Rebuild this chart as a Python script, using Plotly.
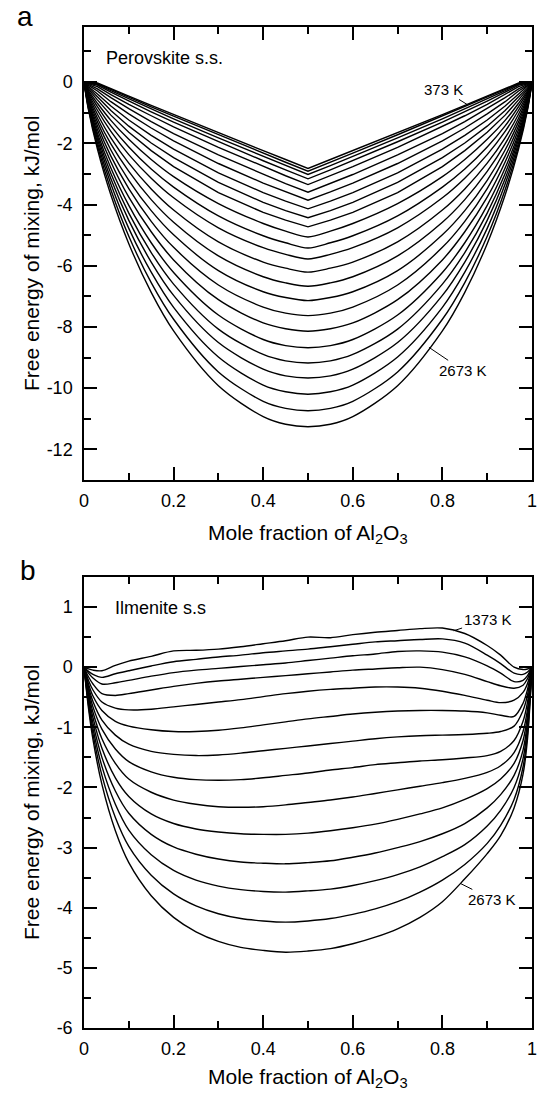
import numpy as np
import plotly.graph_objects as go

# ---------------- Panel a: perovskite solid solution ----------------
x_perov = [0, 0.01, 0.03, 0.06, 0.1, 0.15, 0.2, 0.3, 0.4, 0.45, 0.5,
           0.55, 0.6, 0.7, 0.8, 0.85, 0.9, 0.94, 0.97, 0.99, 1]
temps_perov = [373, 473, 573, 673, 773, 873, 973, 1073, 1173, 1273, 1373, 1473,
               1573, 1673, 1773, 1873, 1973, 2073, 2173, 2273, 2373, 2473, 2573, 2673]
g_perov = [
    [0, 0.00, -0.03, -0.22, -0.46, -0.76, -1.06, -1.65, -2.24, -2.53, -2.82, -2.53, -2.24, -1.65, -1.06, -0.76, -0.46, -0.22, -0.03, 0.00, 0],
    [0, -0.01, -0.05, -0.24, -0.50, -0.81, -1.11, -1.72, -2.32, -2.62, -2.91, -2.62, -2.32, -1.72, -1.11, -0.81, -0.50, -0.24, -0.05, -0.01, 0],
    [0, -0.02, -0.07, -0.28, -0.55, -0.88, -1.20, -1.82, -2.43, -2.73, -3.02, -2.73, -2.43, -1.82, -1.20, -0.88, -0.55, -0.28, -0.07, -0.02, 0],
    [0, -0.03, -0.10, -0.33, -0.62, -0.97, -1.31, -1.95, -2.57, -2.87, -3.16, -2.87, -2.57, -1.95, -1.31, -0.97, -0.62, -0.33, -0.10, -0.03, 0],
    [0, -0.05, -0.15, -0.41, -0.73, -1.10, -1.46, -2.13, -2.76, -3.06, -3.35, -3.06, -2.76, -2.13, -1.46, -1.10, -0.73, -0.41, -0.15, -0.05, 0],
    [0, -0.08, -0.22, -0.51, -0.87, -1.29, -1.68, -2.38, -3.02, -3.32, -3.60, -3.32, -3.02, -2.38, -1.68, -1.29, -0.87, -0.51, -0.22, -0.08, 0],
    [0, -0.11, -0.29, -0.64, -1.04, -1.50, -1.92, -2.66, -3.30, -3.59, -3.86, -3.59, -3.30, -2.66, -1.92, -1.50, -1.04, -0.64, -0.29, -0.11, 0],
    [0, -0.15, -0.39, -0.78, -1.24, -1.74, -2.19, -2.97, -3.61, -3.89, -4.14, -3.89, -3.61, -2.97, -2.19, -1.74, -1.24, -0.78, -0.39, -0.15, 0],
    [0, -0.19, -0.48, -0.93, -1.44, -1.99, -2.47, -3.28, -3.93, -4.20, -4.43, -4.20, -3.93, -3.28, -2.47, -1.99, -1.44, -0.93, -0.48, -0.19, 0],
    [0, -0.23, -0.58, -1.08, -1.64, -2.24, -2.76, -3.61, -4.26, -4.51, -4.73, -4.51, -4.26, -3.61, -2.76, -2.24, -1.64, -1.08, -0.58, -0.23, 0],
    [0, -0.28, -0.69, -1.25, -1.87, -2.53, -3.09, -3.97, -4.62, -4.87, -5.06, -4.87, -4.62, -3.97, -3.09, -2.53, -1.87, -1.25, -0.69, -0.28, 0],
    [0, -0.33, -0.80, -1.43, -2.12, -2.84, -3.43, -4.37, -5.02, -5.25, -5.42, -5.25, -5.02, -4.37, -3.43, -2.84, -2.12, -1.43, -0.80, -0.33, 0],
    [0, -0.38, -0.92, -1.61, -2.37, -3.14, -3.78, -4.76, -5.41, -5.63, -5.78, -5.63, -5.41, -4.76, -3.78, -3.14, -2.37, -1.61, -0.92, -0.38, 0],
    [0, -0.43, -1.05, -1.82, -2.65, -3.49, -4.18, -5.22, -5.88, -6.08, -6.21, -6.08, -5.88, -5.22, -4.18, -3.49, -2.65, -1.82, -1.05, -0.43, 0],
    [0, -0.49, -1.18, -2.02, -2.92, -3.84, -4.58, -5.68, -6.36, -6.56, -6.67, -6.56, -6.36, -5.68, -4.58, -3.84, -2.92, -2.02, -1.18, -0.49, 0],
    [0, -0.54, -1.30, -2.22, -3.21, -4.20, -4.99, -6.16, -6.85, -7.04, -7.14, -7.04, -6.85, -6.16, -4.99, -4.20, -3.21, -2.22, -1.30, -0.54, 0],
    [0, -0.59, -1.43, -2.42, -3.48, -4.55, -5.40, -6.63, -7.35, -7.55, -7.63, -7.55, -7.35, -6.63, -5.40, -4.55, -3.48, -2.42, -1.43, -0.59, 0],
    [0, -0.64, -1.55, -2.61, -3.76, -4.89, -5.81, -7.11, -7.87, -8.06, -8.14, -8.06, -7.87, -7.11, -5.81, -4.89, -3.76, -2.61, -1.55, -0.64, 0],
    [0, -0.69, -1.67, -2.81, -4.03, -5.25, -6.22, -7.61, -8.41, -8.61, -8.68, -8.61, -8.41, -7.61, -6.22, -5.25, -4.03, -2.81, -1.67, -0.69, 0],
    [0, -0.74, -1.77, -2.99, -4.28, -5.57, -6.60, -8.07, -8.90, -9.11, -9.18, -9.11, -8.90, -8.07, -6.60, -5.57, -4.28, -2.99, -1.77, -0.74, 0],
    [0, -0.78, -1.87, -3.16, -4.52, -5.88, -6.97, -8.51, -9.38, -9.60, -9.67, -9.60, -9.38, -8.51, -6.97, -5.88, -4.52, -3.16, -1.87, -0.78, 0],
    [0, -0.82, -1.98, -3.33, -4.78, -6.21, -7.36, -8.98, -9.90, -10.12, -10.20, -10.12, -9.90, -8.98, -7.36, -6.21, -4.78, -3.33, -1.98, -0.82, 0],
    [0, -0.87, -2.09, -3.52, -5.04, -6.55, -7.75, -9.47, -10.43, -10.66, -10.74, -10.66, -10.43, -9.47, -7.75, -6.55, -5.04, -3.52, -2.09, -0.87, 0],
    [0, -0.91, -2.19, -3.69, -5.28, -6.87, -8.13, -9.92, -10.93, -11.18, -11.26, -11.18, -10.93, -9.92, -8.13, -6.87, -5.28, -3.69, -2.19, -0.91, 0],
]
# low-temperature curves keep a sharp kink at x = 0.5
kinked_below = 1300

# ---------------- Panel b: ilmenite solid solution ----------------
x_ilm = [0, 0.01, 0.02, 0.04, 0.07, 0.1, 0.15, 0.2, 0.25, 0.3, 0.35, 0.4, 0.45, 0.5,
         0.55, 0.6, 0.65, 0.7, 0.75, 0.8, 0.85, 0.9, 0.93, 0.96, 0.98, 0.99, 1]
temps_ilm = [1373, 1473, 1573, 1673, 1773, 1873, 1973, 2073, 2173, 2273, 2373, 2473, 2573, 2673]
g_ilm = [
    [0, -0.03, -0.05, -0.06, 0.03, 0.10, 0.18, 0.27, 0.28, 0.30, 0.34, 0.39, 0.44, 0.50, 0.49, 0.54, 0.58, 0.61, 0.64, 0.65, 0.56, 0.36, 0.20, 0.00, -0.04, -0.03, 0],
    [0, -0.07, -0.12, -0.17, -0.11, -0.06, 0.02, 0.09, 0.13, 0.17, 0.20, 0.24, 0.27, 0.30, 0.34, 0.38, 0.42, 0.44, 0.46, 0.47, 0.40, 0.20, 0.06, -0.10, -0.12, -0.08, 0],
    [0, -0.10, -0.18, -0.28, -0.26, -0.22, -0.15, -0.09, -0.05, -0.02, 0.01, 0.04, 0.07, 0.11, 0.15, 0.19, 0.22, 0.26, 0.27, 0.25, 0.17, 0.02, -0.10, -0.24, -0.22, -0.14, 0],
    [0, -0.16, -0.28, -0.44, -0.47, -0.44, -0.38, -0.32, -0.27, -0.23, -0.20, -0.17, -0.14, -0.11, -0.08, -0.05, -0.03, -0.01, 0.00, -0.04, -0.12, -0.24, -0.31, -0.35, -0.30, -0.19, 0],
    [0, -0.22, -0.38, -0.58, -0.68, -0.71, -0.70, -0.66, -0.62, -0.58, -0.54, -0.49, -0.44, -0.40, -0.37, -0.35, -0.33, -0.33, -0.35, -0.40, -0.47, -0.55, -0.59, -0.55, -0.42, -0.27, 0],
    [0, -0.28, -0.48, -0.72, -0.90, -0.98, -1.04, -1.07, -1.07, -1.05, -1.01, -0.96, -0.91, -0.86, -0.82, -0.78, -0.75, -0.73, -0.72, -0.72, -0.73, -0.76, -0.80, -0.82, -0.60, -0.37, 0],
    [0, -0.33, -0.57, -0.88, -1.13, -1.28, -1.40, -1.45, -1.47, -1.46, -1.43, -1.39, -1.35, -1.31, -1.27, -1.23, -1.19, -1.16, -1.14, -1.13, -1.12, -1.10, -1.07, -0.98, -0.72, -0.46, 0],
    [0, -0.38, -0.66, -1.03, -1.36, -1.57, -1.74, -1.83, -1.87, -1.88, -1.87, -1.84, -1.80, -1.76, -1.71, -1.67, -1.62, -1.59, -1.56, -1.54, -1.51, -1.47, -1.40, -1.22, -0.90, -0.58, 0],
    [0, -0.43, -0.75, -1.19, -1.60, -1.86, -2.08, -2.21, -2.28, -2.32, -2.33, -2.32, -2.29, -2.25, -2.21, -2.16, -2.10, -2.04, -1.98, -1.92, -1.85, -1.75, -1.64, -1.42, -1.07, -0.70, 0],
    [0, -0.48, -0.84, -1.35, -1.84, -2.15, -2.44, -2.60, -2.69, -2.74, -2.77, -2.78, -2.78, -2.76, -2.72, -2.67, -2.61, -2.53, -2.44, -2.34, -2.20, -2.02, -1.86, -1.60, -1.22, -0.80, 0],
    [0, -0.53, -0.93, -1.50, -2.06, -2.43, -2.78, -2.99, -3.11, -3.19, -3.24, -3.26, -3.27, -3.25, -3.22, -3.16, -3.09, -3.00, -2.90, -2.77, -2.60, -2.34, -2.12, -1.80, -1.38, -0.90, 0],
    [0, -0.58, -1.02, -1.65, -2.28, -2.71, -3.12, -3.38, -3.54, -3.64, -3.70, -3.73, -3.74, -3.72, -3.69, -3.63, -3.55, -3.45, -3.32, -3.15, -2.95, -2.64, -2.38, -2.00, -1.52, -1.00, 0],
    [0, -0.63, -1.11, -1.80, -2.50, -2.98, -3.46, -3.77, -3.97, -4.10, -4.18, -4.22, -4.24, -4.22, -4.18, -4.11, -4.02, -3.90, -3.74, -3.54, -3.28, -2.93, -2.63, -2.20, -1.66, -1.10, 0],
    [0, -0.68, -1.20, -1.95, -2.72, -3.25, -3.80, -4.16, -4.40, -4.56, -4.66, -4.71, -4.74, -4.72, -4.68, -4.60, -4.49, -4.35, -4.16, -3.90, -3.52, -3.10, -2.80, -2.34, -1.78, -1.19, 0],
]

# Tick values and labels (plain hyphen minus signs)
x_ticks = [0, 0.2, 0.4, 0.6, 0.8, 1]
x_ticktext = ["0", "0.2", "0.4", "0.6", "0.8", "1"]
y_ticks_a = [-12, -10, -8, -6, -4, -2, 0]
y_ticktext_a = ["-12", "-10", "-8", "-6", "-4", "-2", "0"]
y_ticks_b = [-6, -5, -4, -3, -2, -1, 0, 1]
y_ticktext_b = ["-6", "-5", "-4", "-3", "-2", "-1", "0", "1"]

FONT = "Liberation Sans"

fig = go.Figure()
for t, g in zip(temps_perov, g_perov):
    if t < kinked_below:
        line = dict(color="black", width=1.4, shape="linear")
    else:
        line = dict(color="black", width=1.4, shape="spline", smoothing=0.9)
    fig.add_trace(go.Scatter(x=x_perov, y=g, mode="lines", name=f"{t} K", line=line,
                             xaxis="x", yaxis="y", showlegend=False, hoverinfo="skip"))
for t, g in zip(temps_ilm, g_ilm):
    fig.add_trace(go.Scatter(x=x_ilm, y=g, mode="lines", name=f"{t} K",
                             line=dict(color="black", width=1.4, shape="spline", smoothing=0.9),
                             xaxis="x2", yaxis="y2", showlegend=False, hoverinfo="skip"))

axis_style = dict(showline=True, linecolor="black", linewidth=1.5, mirror="ticks",
                  ticks="inside", ticklen=13, tickwidth=1.5, tickcolor="black",
                  showgrid=False, zeroline=False,
                  tickfont=dict(family=FONT, size=18, color="black"))


def minor(step):
    return dict(ticks="inside", ticklen=7, tickwidth=1.5, tickcolor="black",
                tickmode="linear", tick0=0, dtick=step, showgrid=False)


fig.update_layout(
    width=544, height=1093,
    margin=dict(l=84, r=7, t=27, b=65),
    paper_bgcolor="white", plot_bgcolor="white",
    font=dict(family=FONT, color="black"),
    xaxis=dict(domain=[0, 1], range=[0, 1], anchor="y", tickmode="array",
               tickvals=x_ticks, ticktext=x_ticktext, minor=minor(0.1),
               ticklabelstandoff=4, **axis_style),
    yaxis=dict(domain=[0.5475, 1], range=[-13, 1.8], anchor="x", tickmode="array",
               tickvals=y_ticks_a, ticktext=y_ticktext_a, minor=minor(1),
               ticklabelstandoff=6, **axis_style),
    xaxis2=dict(domain=[0, 1], range=[0, 1], anchor="y2", tickmode="array",
                tickvals=x_ticks, ticktext=x_ticktext, minor=minor(0.1),
                ticklabelstandoff=4, **axis_style),
    yaxis2=dict(domain=[0, 0.4506], range=[-6, 1.5], anchor="x2", tickmode="array",
                tickvals=y_ticks_b, ticktext=y_ticktext_b, minor=minor(0.5),
                ticklabelstandoff=6, **axis_style),
)

ann = []
# panel letters
ann.append(dict(text="a", xref="paper", yref="paper", x=-0.132, y=1.01,
                showarrow=False, font=dict(family=FONT, size=28), xanchor="center", yanchor="middle"))
ann.append(dict(text="b", xref="paper", yref="paper", x=-0.126, y=0.4566,
                showarrow=False, font=dict(family=FONT, size=28), xanchor="center", yanchor="middle"))
# axis titles
ytitle = "Free energy of mixing, kJ/mol"
xtitle = "Mole fraction of Al<sub>2</sub>O<sub>3</sub>"
ann.append(dict(text=ytitle, xref="paper", yref="paper", x=-0.117, y=0.7737, textangle=-90,
                showarrow=False, font=dict(family=FONT, size=21), xanchor="center", yanchor="middle"))
ann.append(dict(text=ytitle, xref="paper", yref="paper", x=-0.117, y=0.2253, textangle=-90,
                showarrow=False, font=dict(family=FONT, size=21), xanchor="center", yanchor="middle"))
ann.append(dict(text=xtitle, xref="paper", yref="paper", x=0.5, y=0.4935,
                showarrow=False, font=dict(family=FONT, size=21), xanchor="center", yanchor="middle"))
ann.append(dict(text=xtitle, xref="paper", yref="paper", x=0.5, y=-0.050,
                showarrow=False, font=dict(family=FONT, size=21), xanchor="center", yanchor="middle"))
# panel names
ann.append(dict(text="Perovskite s.s.", xref="x", yref="y", x=0.044, y=0.8,
                showarrow=False, font=dict(family=FONT, size=18), xanchor="left", yanchor="middle"))
ann.append(dict(text="Ilmenite s.s", xref="x2", yref="y2", x=0.064, y=0.98,
                showarrow=False, font=dict(family=FONT, size=18), xanchor="left", yanchor="middle"))


def curve_label(text, xs, ys, xpt, ax, ay, xref, yref):
    ypt = float(np.interp(xpt, xs, ys))
    return dict(text=text, xref=xref, yref=yref, x=xpt, y=ypt, ax=ax, ay=ay,
                showarrow=True, arrowhead=0, arrowwidth=1, arrowcolor="black", standoff=0,
                font=dict(family=FONT, size=15, color="black"))


ann.append(curve_label("373 K", x_perov, g_perov[0], 0.855, -24, -15, "x", "y"))
ann.append(curve_label("2673 K", x_perov, g_perov[-1], 0.77, 34, 23, "x", "y"))
ann.append(curve_label("1373 K", x_ilm, g_ilm[0], 0.825, 34, -11, "x2", "y2"))
ann.append(curve_label("2673 K", x_ilm, g_ilm[-1], 0.84, 32, 16, "x2", "y2"))

fig.update_layout(annotations=ann)
fig.write_html("out.html")
